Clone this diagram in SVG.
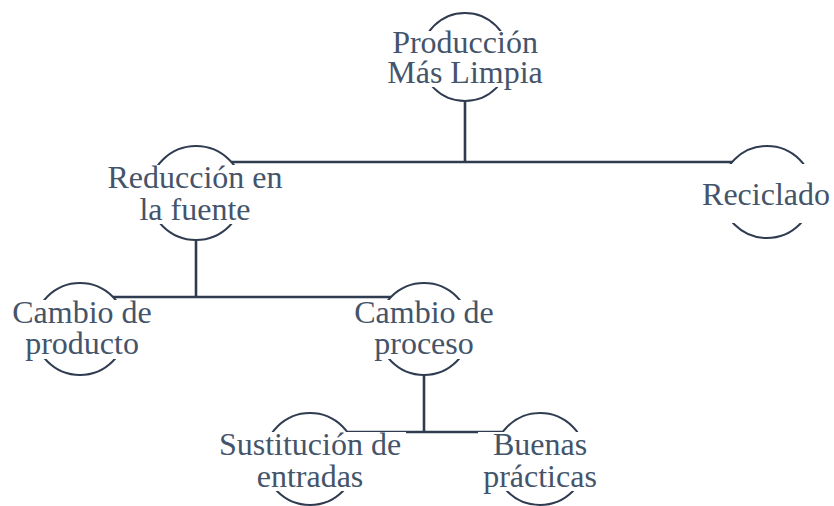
<svg xmlns="http://www.w3.org/2000/svg" width="834" height="506" viewBox="0 0 834 506">
<style>
.edge{fill:none;stroke:#2f3c50;stroke-width:2.6;}
.ring{fill:#ffffff;stroke:#2f3c50;stroke-width:2;}
.bg{fill:#ffffff;stroke:none;}
.lbl{font-size:32px;fill:#44546a;text-anchor:middle;}
</style>
<rect width="834" height="506" fill="#ffffff"/>
<g id="connectors">
<path class="edge" d="M465,57 V162 M196,162 H767 M196,193 V162 M767,192 V162"/>
<path class="edge" d="M196,193 V297 M80,297 H424 M80,329 V297 M424,329 V297"/>
<path class="edge" d="M424,329 V432 M310,432 H540 M310,459 V432 M540,459 V432"/>
</g>
<g id="node-produccion">
<circle class="ring" cx="465" cy="57" r="44"/>
<rect class="bg" x="380" y="31" width="170" height="56"/>
<text class="lbl" font-family="'Liberation Serif', 'DejaVu Serif', serif"><tspan x="465" y="53">Producción</tspan><tspan x="465" y="83">Más Limpia</tspan></text>
</g>
<g id="node-reduccion">
<circle class="ring" cx="196" cy="193" r="47"/>
<rect class="bg" x="100" y="165" width="192" height="59"/>
<text class="lbl" font-family="'Liberation Serif', 'DejaVu Serif', serif"><tspan x="195" y="188">Reducción en</tspan><tspan x="195" y="220">la fuente</tspan></text>
</g>
<g id="node-reciclado">
<circle class="ring" cx="767" cy="192" r="46"/>
<rect class="bg" x="698" y="164" width="136" height="59"/>
<text class="lbl" font-family="'Liberation Serif', 'DejaVu Serif', serif" x="766" y="205">Reciclado</text>
</g>
<g id="node-cambio-producto">
<circle class="ring" cx="80" cy="329" r="46"/>
<rect class="bg" x="6" y="300" width="152" height="59"/>
<text class="lbl" font-family="'Liberation Serif', 'DejaVu Serif', serif"><tspan x="82" y="323">Cambio de</tspan><tspan x="82" y="354">producto</tspan></text>
</g>
<g id="node-cambio-proceso">
<circle class="ring" cx="424" cy="329" r="46"/>
<rect class="bg" x="348" y="300" width="152" height="59"/>
<text class="lbl" font-family="'Liberation Serif', 'DejaVu Serif', serif"><tspan x="424" y="323">Cambio de</tspan><tspan x="424" y="354">proceso</tspan></text>
</g>
<g id="node-sustitucion">
<circle class="ring" cx="310" cy="459" r="46"/>
<rect class="bg" x="214" y="432" width="192" height="59"/>
<text class="lbl" font-family="'Liberation Serif', 'DejaVu Serif', serif"><tspan x="310" y="455">Sustitución de</tspan><tspan x="310" y="487">entradas</tspan></text>
</g>
<g id="node-buenas">
<circle class="ring" cx="540" cy="459" r="46"/>
<rect class="bg" x="478" y="432" width="124" height="59"/>
<text class="lbl" font-family="'Liberation Serif', 'DejaVu Serif', serif"><tspan x="540" y="455">Buenas</tspan><tspan x="540" y="487">prácticas</tspan></text>
</g>
</svg>
